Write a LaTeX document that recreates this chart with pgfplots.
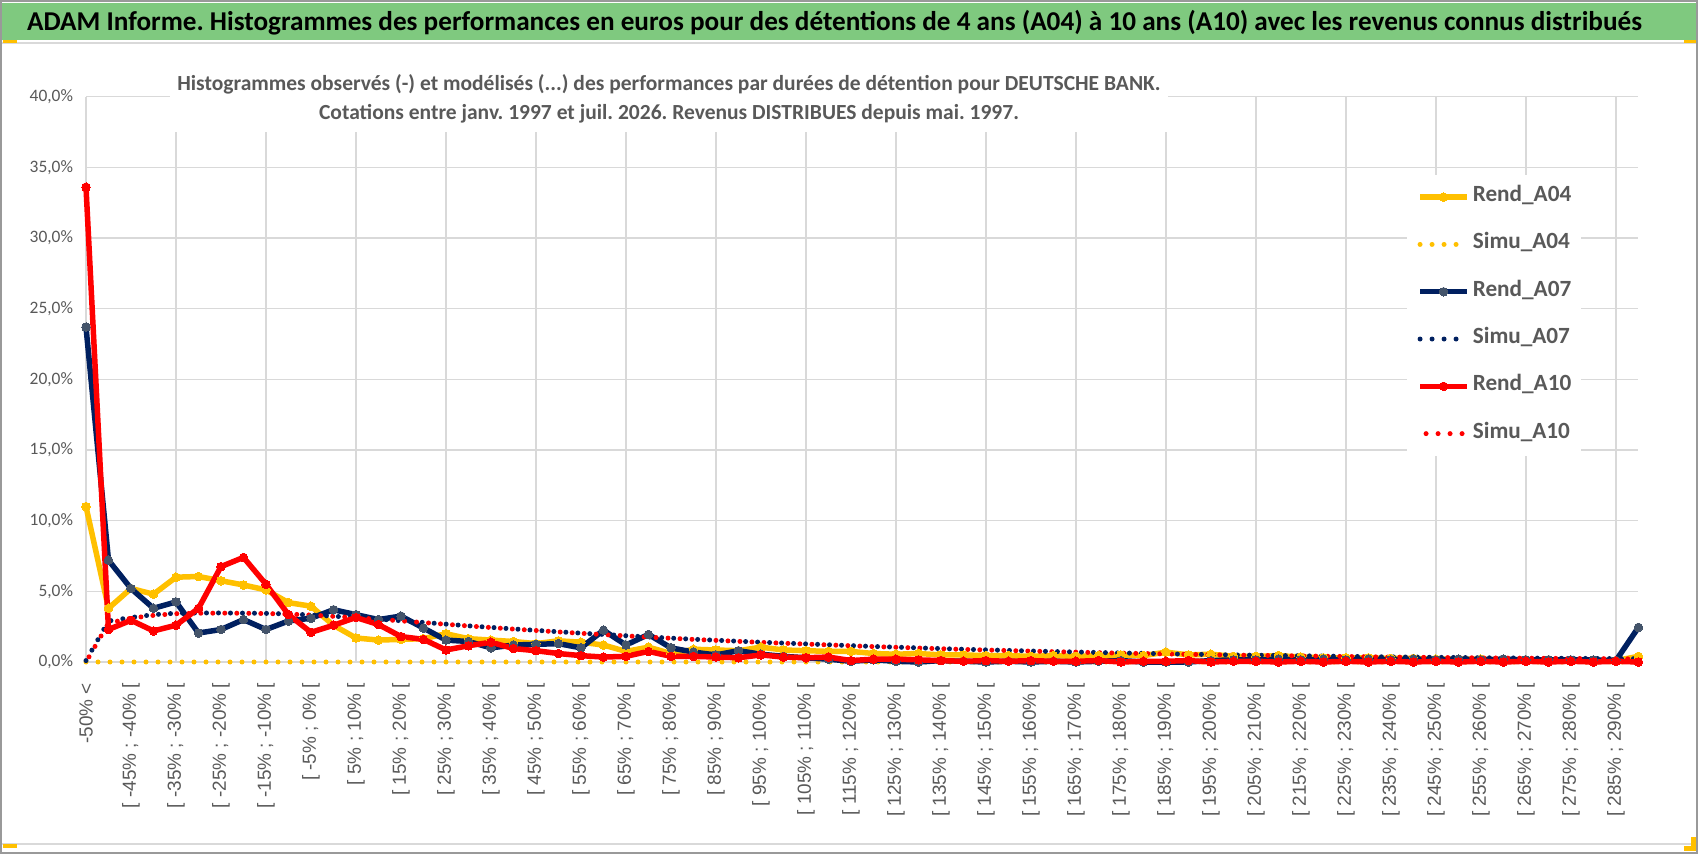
\documentclass[border=0pt]{standalone}
\usepackage{fontspec}
\setmainfont{Carlito}
\newfontfamily\arialf{Liberation Sans}
\usepackage{pgfplots}
\usepackage{pgfplotstable}
\pgfplotsset{compat=1.18}
\definecolor{ygold}{HTML}{FFC000}
\definecolor{navy}{HTML}{002060}
\definecolor{navymark}{HTML}{44546A}
\definecolor{rred}{HTML}{FF0000}
\definecolor{gridgray}{HTML}{D9D9D9}
\definecolor{textgray}{HTML}{595959}
\definecolor{bannergreen}{HTML}{7FC97F}
\frenchspacing

\pgfplotstableread{
i r04 s04 r07 s07 r10 s10
0 11.0 0 23.7 0.10 33.6 0.00
1 3.8 0 7.2 2.90 2.3 2.75
2 5.2 0 5.2 3.15 2.95 3.10
3 4.8 0 3.8 3.35 2.2 3.30
4 6.0 0 4.25 3.45 2.6 3.42
5 6.05 0 2.05 3.47 3.8 3.45
6 5.75 0 2.3 3.47 6.75 3.46
7 5.45 0 3.0 3.46 7.4 3.45
8 5.1 0 2.3 3.44 5.5 3.43
9 4.2 0 2.9 3.40 3.35 3.39
10 3.95 0 3.1 3.33 2.1 3.32
11 2.6 0 3.7 3.24 2.6 3.23
12 1.7 0 3.35 3.14 3.15 3.13
13 1.55 0 3.0 3.03 2.65 3.02
14 1.6 0 3.25 2.92 1.8 2.91
15 1.65 0 2.4 2.80 1.6 2.79
16 2.0 0 1.55 2.68 0.85 2.67
17 1.65 0 1.45 2.56 1.15 2.55
18 1.55 0 1.0 2.45 1.4 2.44
19 1.45 0 1.2 2.34 0.95 2.33
20 1.3 0 1.25 2.24 0.8 2.23
21 1.5 0 1.3 2.14 0.6 2.13
22 1.4 0 1.0 2.04 0.45 2.03
23 1.2 0 2.25 1.95 0.35 1.94
24 0.75 0 1.2 1.86 0.4 1.85
25 1.05 0 1.95 1.77 0.75 1.76
26 0.6 0 1.0 1.69 0.4 1.68
27 0.9 0 0.7 1.61 0.4 1.60
28 0.85 0 0.5 1.54 0.35 1.53
29 0.8 0 0.8 1.47 0.3 1.46
30 1.05 0 0.55 1.40 0.5 1.39
31 0.85 0 0.4 1.34 0.35 1.33
32 0.8 0 0.3 1.28 0.3 1.27
33 0.75 0 0.2 1.22 0.35 1.21
34 0.75 0 0.05 1.16 0.1 1.15
35 0.6 0 0.15 1.10 0.2 1.09
36 0.55 0 0.05 1.05 0.2 1.04
37 0.6 0 0.0 1.00 0.15 0.99
38 0.5 0 0.1 0.95 0.1 0.94
39 0.5 0 0.05 0.90 0.05 0.89
40 0.45 0 0.0 0.86 0.1 0.85
41 0.45 0 0.05 0.82 0.05 0.81
42 0.4 0 0.0 0.78 0.1 0.77
43 0.45 0 0.05 0.74 0.05 0.73
44 0.4 0 0.0 0.71 0.05 0.70
45 0.45 0 0.05 0.67 0.1 0.66
46 0.5 0 0.1 0.64 0.0 0.63
47 0.45 0 0.0 0.61 0.05 0.60
48 0.7 0 0.0 0.58 0.05 0.57
49 0.5 0 0.0 0.55 0.1 0.54
50 0.55 0 0.1 0.53 0.0 0.52
51 0.4 0 0.15 0.50 0.05 0.49
52 0.4 0 0.15 0.48 0.05 0.47
53 0.45 0 0.2 0.46 0.0 0.45
54 0.35 0 0.15 0.44 0.05 0.43
55 0.3 0 0.2 0.42 0.0 0.41
56 0.3 0 0.15 0.40 0.05 0.39
57 0.3 0 0.2 0.38 0.0 0.37
58 0.25 0 0.15 0.36 0.05 0.35
59 0.25 0 0.2 0.35 0.0 0.34
60 0.2 0 0.15 0.33 0.05 0.32
61 0.2 0 0.2 0.32 0.0 0.31
62 0.2 0 0.15 0.30 0.05 0.29
63 0.15 0 0.2 0.29 0.0 0.28
64 0.15 0 0.15 0.28 0.05 0.27
65 0.15 0 0.15 0.27 0.0 0.26
66 0.1 0 0.15 0.26 0.05 0.25
67 0.1 0 0.15 0.25 0.0 0.24
68 0.1 0 0.1 0.24 0.05 0.23
69 0.4 0 2.45 0.23 0.0 0.22
}\data

\begin{document}
\begin{tikzpicture}
\useasboundingbox (0bp,0bp) rectangle (1698bp,854bp);
\fill[white] (0bp,0bp) rectangle (1698bp,854bp);
% banner
\fill[bannergreen] (1bp,813.5bp) rectangle (1697bp,850.5bp);
\draw[gridgray, line width=1.5bp] (0bp,811bp) -- (1698bp,811bp);
\draw[gridgray, line width=1.5bp] (0bp,10bp) -- (1698bp,10bp);
\node[anchor=west, inner sep=0pt, font=\bfseries\fontsize{27.3}{30}\selectfont, text=black] at (27bp,831bp)
  {ADAM Informe. Histogrammes des performances en euros pour des détentions de 4 ans (A04) à 10 ans (A10) avec les revenus connus distribués};
\begin{axis}[
  at={(86bp,192bp)}, anchor=south west,
  width=1552.5bp, height=565.3bp, scale only axis,
  xmin=0, xmax=69, ymin=0, ymax=40,
  clip=false,
  axis line style={draw=none},
  major tick length=0pt, minor tick length=0pt,
  ytick={0,5,...,40},
  yticklabels={{0,0\%},{5,0\%},{10,0\%},{15,0\%},{20,0\%},{25,0\%},{30,0\%},{35,0\%},{40,0\%}},
  xtick={0,2,...,68},
  minor xtick={0,4,...,68},
  xticklabels={{-50\% <},
  {[ -45\% ; -40\% [},{[ -35\% ; -30\% [},{[ -25\% ; -20\% [},{[ -15\% ; -10\% [},{[ -5\% ; 0\% [},
  {[ 5\% ; 10\% [},{[ 15\% ; 20\% [},{[ 25\% ; 30\% [},{[ 35\% ; 40\% [},{[ 45\% ; 50\% [},
  {[ 55\% ; 60\% [},{[ 65\% ; 70\% [},{[ 75\% ; 80\% [},{[ 85\% ; 90\% [},{[ 95\% ; 100\% [},
  {[ 105\% ; 110\% [},{[ 115\% ; 120\% [},{[ 125\% ; 130\% [},{[ 135\% ; 140\% [},{[ 145\% ; 150\% [},
  {[ 155\% ; 160\% [},{[ 165\% ; 170\% [},{[ 175\% ; 180\% [},{[ 185\% ; 190\% [},{[ 195\% ; 200\% [},
  {[ 205\% ; 210\% [},{[ 215\% ; 220\% [},{[ 225\% ; 230\% [},{[ 235\% ; 240\% [},{[ 245\% ; 250\% [},
  {[ 255\% ; 260\% [},{[ 265\% ; 270\% [},{[ 275\% ; 280\% [},{[ 285\% ; 290\% [}},
  ymajorgrids, xmajorgrids=false, xminorgrids,
  major grid style={draw=gridgray, line width=1.4bp},
  minor grid style={draw=gridgray, line width=1.4bp},
  yticklabel style={font=\fontsize{17.5}{17.5}\selectfont, text=textgray, anchor=east, inner xsep=13bp, inner ysep=0pt, outer sep=0pt},
  xticklabel style={font=\arialf\fontsize{19}{19}\selectfont, text=textgray, rotate=90, anchor=east, inner xsep=21bp, inner ysep=0pt, outer sep=0pt},
  legend cell align=left,
  legend style={at={(0.851,0.8625)}, anchor=north west, draw=none, fill=white,
    inner xsep=10bp, inner ysep=12bp, row sep=26.3bp, column sep=3bp,
    font=\bfseries\fontsize{23.3}{23.3}\selectfont, text=textgray,
    nodes={inner sep=0pt, text height=15bp, text depth=6bp}},
  legend image code/.code={\draw[mark repeat=2,mark phase=2,#1] plot coordinates {(0bp,0bp) (23.5bp,0bp) (47bp,0bp)};},
]
\addplot[color=ygold, line width=5.5bp, mark=*, mark size=4.3bp, mark options={solid, fill=ygold, draw=ygold, line width=0pt}] table[x=i,y=r04]{\data};
\addlegendentry{Rend\_A04}
\addplot[color=ygold, line width=5bp, line cap=round, dash pattern=on 0bp off 12bp, mark=none] table[x=i,y=s04]{\data};
\addlegendentry{Simu\_A04}
\addplot[color=navy, line width=5.5bp, mark=*, mark size=4.3bp, mark options={solid, fill=navymark, draw=navymark, line width=0pt}] table[x=i,y=r07]{\data};
\addlegendentry{Rend\_A07}
\addplot[color=navy, line width=5bp, line cap=round, dash pattern=on 0bp off 12bp, mark=none] table[x=i,y=s07]{\data};
\addlegendentry{Simu\_A07}
\addplot[color=rred, line width=5.5bp, mark=*, mark size=4.3bp, mark options={solid, fill=rred, draw=rred, line width=0pt}] table[x=i,y=r10]{\data};
\addlegendentry{Rend\_A10}
\addplot[color=rred, line width=5bp, line cap=round, dash pattern=on 0bp off 12bp, dash phase=6bp, mark=none] table[x=i,y=s10]{\data};
\addlegendentry{Simu\_A10}
\end{axis}
\node[fill=white, align=center, inner xsep=7bp, inner ysep=9bp, font=\bfseries\fontsize{21.6}{29.5}\selectfont, text=textgray] at (669bp,755bp)
  {Histogrammes observés (-) et modélisés (...) des performances par durées de détention pour DEUTSCHE BANK.\\
   Cotations entre janv. 1997 et juil. 2026. Revenus DISTRIBUES depuis mai. 1997.};
% frame and handles
\draw[gray!80, line width=2bp] (1bp,1bp) rectangle (1697bp,853bp);
\fill[ygold] (3bp,810.5bp) rectangle (17bp,813.5bp);
\fill[ygold] (1684bp,810.5bp) rectangle (1696bp,813.5bp);
\fill[ygold] (3bp,6bp) rectangle (17bp,10bp);
\fill[ygold] (1684bp,3bp) rectangle (1696bp,8bp);
\fill[ygold] (1691bp,3bp) rectangle (1696bp,17bp);
\end{tikzpicture}
\end{document}
